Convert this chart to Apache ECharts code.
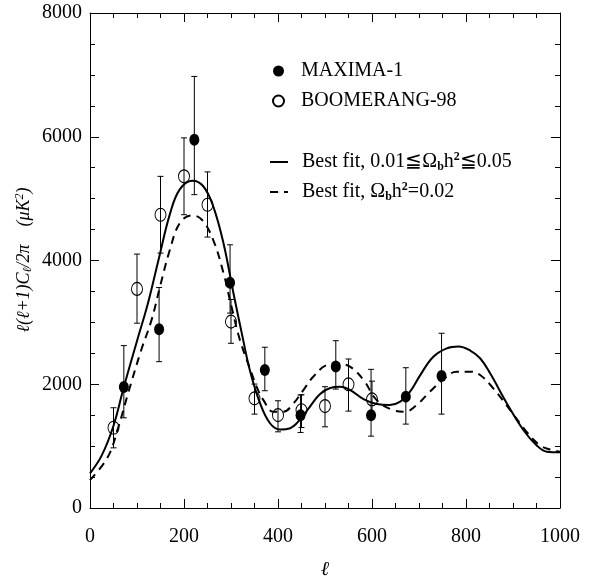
<!DOCTYPE html>
<html>
<head>
<meta charset="utf-8">
<script src="https://cdn.jsdelivr.net/npm/echarts@6/dist/echarts.min.js"></script>
<style>
  html, body { margin: 0; padding: 0; background: #fff; }
  #cl-chart { width: 589px; height: 578px; }
</style>
</head>
<body>
<div id="cl-chart"></div>
<script>
// ------------------------------
// Data
// ------------------------------
var maximaL   = [72, 147, 222, 298, 372, 448, 523, 598, 672, 748];
var maximaVal = [1955, 2890, 5950, 3640, 2230, 1500, 2285, 1500, 1800, 2135];
var maximaLo  = [1458, 2365, 5064, 3150, 1895, 1221, 1922, 1161, 1356, 1517];
var maximaHi  = [2624, 3563, 6975, 4254, 2598, 1826, 2704, 2241, 2267, 2824];

var boomL   = [50, 100, 150, 200, 250, 300, 350, 400, 450, 500, 550, 600];
var boomVal = [1296, 3541, 4740, 5360, 4902, 3012, 1772, 1501, 1580, 1647, 1998, 1755];
var boomLo  = [972, 2987, 4120, 4740, 4379, 2662, 1517, 1231, 1300, 1312, 1566, 1450];
var boomHi  = [1620, 4104, 5360, 5982, 5432, 3370, 2003, 1733, 1830, 1960, 2408, 2050];

// best fit, 0.01 <= Omega_b h^2 <= 0.05 (solid)
var fitRangeL   = [0, 25, 50, 72, 100, 123, 147, 170, 191, 218, 241, 262, 284, 305, 325, 340, 362, 383, 404, 426, 447, 468, 489, 511, 532, 553, 582, 610, 638, 660, 681, 702, 730, 759, 784, 809, 830, 851, 887, 922, 950, 972, 1000];
var fitRangeVal = [560, 850, 1330, 1955, 2700, 3300, 4050, 4750, 5150, 5290, 5200, 4880, 4280, 3480, 2750, 2230, 1690, 1370, 1270, 1290, 1430, 1640, 1840, 1940, 1960, 1910, 1760, 1680, 1665, 1720, 1880, 2140, 2440, 2580, 2610, 2545, 2420, 2180, 1690, 1260, 1015, 910, 900];

// best fit, Omega_b h^2 = 0.02 (dashed)
var fitFixedL   = [0, 38, 60, 81, 109, 131, 149, 170, 191, 216, 238, 262, 284, 301, 319, 340, 355, 369, 390, 411, 433, 454, 475, 504, 523, 553, 582, 610, 645, 670, 695, 723, 752, 780, 809, 830, 858, 894, 929, 957, 979, 1000];
var fitFixedVal = [450, 826, 1300, 1853, 2554, 3040, 3580, 4173, 4605, 4729, 4659, 4335, 3796, 3255, 2716, 2260, 1950, 1744, 1555, 1555, 1691, 1906, 2122, 2311, 2330, 2284, 2068, 1744, 1582, 1555, 1663, 1879, 2080, 2203, 2203, 2149, 1934, 1582, 1231, 1015, 946, 910];

var xTicks = { min: 0, max: 1000, step: 200 };
var yTicks = { min: 0, max: 8000, step: 2000 };

function zip(a, b, c) {
    return a.map(function (v, i) { return c ? [v, b[i], c[i]] : [v, b[i]]; });
}

var serif = "'Liberation Serif', 'DejaVu Serif', serif";

function errorBars(params, api) {
    var x = api.value(0);
    var lo = api.coord([x, api.value(1)]);
    var hi = api.coord([x, api.value(2)]);
    var half = 3;
    var style = { stroke: '#000', lineWidth: 1 };
    return {
        type: 'group',
        children: [
            { type: 'line', shape: { x1: lo[0], y1: lo[1], x2: hi[0], y2: hi[1] }, style: style },
            { type: 'line', shape: { x1: lo[0] - half, y1: lo[1], x2: lo[0] + half, y2: lo[1] }, style: style },
            { type: 'line', shape: { x1: hi[0] - half, y1: hi[1], x2: hi[0] + half, y2: hi[1] }, style: style }
        ]
    };
}

// fresh axis object each time (framed box with inward ticks on all sides)
function makeAxis(ticks, extra) {
    var ax = {
        type: 'value',
        min: ticks.min,
        max: ticks.max,
        interval: ticks.step,
        axisLine: { show: true, onZero: false, lineStyle: { color: '#000', width: 1 } },
        axisTick: { show: true, inside: true, length: 9, lineStyle: { color: '#000', width: 1 } },
        minorTick: { show: true, splitNumber: 4, length: 5, lineStyle: { color: '#000', width: 1 } },
        splitLine: { show: false },
        minorSplitLine: { show: false }
    };
    for (var k in extra) ax[k] = extra[k];
    return ax;
}

var chart = echarts.init(document.getElementById('cl-chart'));

var option = {
    animation: false,
    backgroundColor: '#fff',
    grid: { left: 90, right: 29, top: 13, bottom: 70, outerBoundsMode: 'none' },
    // axis titles
    graphic: [
        {
            type: 'text',
            x: 325,
            y: 570,
            style: {
                text: 'ℓ',
                font: 'italic 20px ' + serif,
                fill: '#000',
                align: 'center',
                verticalAlign: 'middle'
            }
        },
        {
            type: 'text',
            x: 24,
            y: 260,
            rotation: Math.PI / 2,
            style: {
                text: '{t|ℓ(ℓ+1)C}{sb|ℓ}{t|/2π    (μK}{sp|2}{t|)}',
                fill: '#000',
                align: 'center',
                verticalAlign: 'middle',
                rich: {
                    t: { fontFamily: serif, fontStyle: 'italic', fontSize: 18, fill: '#000', lineHeight: 20 },
                    sb: { fontFamily: serif, fontStyle: 'italic', fontSize: 12, fill: '#000', verticalAlign: 'bottom', lineHeight: 20 },
                    sp: { fontFamily: serif, fontStyle: 'italic', fontSize: 12, fill: '#000', verticalAlign: 'top', lineHeight: 20 }
                }
            }
        }
    ],
    legend: [
        {
            data: ['MAXIMA-1', 'BOOMERANG-98'],
            orient: 'vertical',
            left: 272,
            top: 61,
            padding: 0,
            itemWidth: 11,
            itemHeight: 12,
            itemGap: 10,
            textStyle: { fontFamily: serif, fontSize: 20, color: '#000', padding: [0, 0, 0, 12] }
        },
        {
            data: ['fitRange', 'fitFixed'],
            orient: 'vertical',
            left: 269,
            top: 151,
            padding: 0,
            itemWidth: 18,
            itemHeight: 1,
            itemGap: 8,
            formatter: function (name) {
                if (name === 'fitRange') {
                    return '{t|Best fit, 0.01≦Ω}{sb|b}{t|h}{sp|2}{t|≦0.05}';
                }
                return '{t|Best fit, Ω}{sb|b}{t|h}{sp|2}{t|=0.02}';
            },
            textStyle: {
                color: '#000',
                padding: [0, 0, 0, 9],
                rich: {
                    t: { fontFamily: serif, fontSize: 20, color: '#000', lineHeight: 22 },
                    sb: { fontFamily: serif, fontSize: 12, fontWeight: 'bold', color: '#000', verticalAlign: 'bottom', lineHeight: 22 },
                    sp: { fontFamily: serif, fontSize: 12, fontWeight: 'bold', color: '#000', verticalAlign: 'top', lineHeight: 22 }
                }
            }
        }
    ],
    xAxis: [
        makeAxis(xTicks, {
            position: 'bottom',
            axisLabel: { fontFamily: serif, fontSize: 20, color: '#000', margin: 19, formatter: function (v) { return String(v); } }
        }),
        makeAxis(xTicks, { position: 'top', axisLabel: { show: false } })
    ],
    yAxis: [
        makeAxis(yTicks, {
            position: 'left',
            axisLabel: {
                fontFamily: serif, fontSize: 20, color: '#000', margin: 8,
                formatter: function (v) { return String(v); }
            }
        }),
        makeAxis(yTicks, { position: 'right', axisLabel: { show: false } })
    ],
    series: [
        {
            name: 'fitRange',
            type: 'line',
            data: zip(fitRangeL, fitRangeVal),
            smooth: 0.4,
            symbol: 'none',
            lineStyle: { color: '#000', width: 2 },
            itemStyle: { color: '#000' },
            z: 2
        },
        {
            name: 'fitFixed',
            type: 'line',
            data: zip(fitFixedL, fitFixedVal),
            smooth: 0.4,
            symbol: 'none',
            lineStyle: { color: '#000', width: 2, type: [8, 6] },
            itemStyle: { color: '#000' },
            z: 2
        },
        {
            name: 'maximaErr',
            type: 'custom',
            renderItem: errorBars,
            encode: { x: 0, y: [1, 2] },
            data: zip(maximaL, maximaLo, maximaHi),
            z: 3
        },
        {
            name: 'boomErr',
            type: 'custom',
            renderItem: errorBars,
            encode: { x: 0, y: [1, 2] },
            data: zip(boomL, boomLo, boomHi),
            z: 3
        },
        {
            name: 'MAXIMA-1',
            type: 'scatter',
            data: zip(maximaL, maximaVal),
            symbol: 'circle',
            symbolSize: [10, 12],
            itemStyle: { color: '#000', opacity: 1 },
            z: 4
        },
        {
            name: 'BOOMERANG-98',
            type: 'scatter',
            data: zip(boomL, boomVal),
            symbol: 'circle',
            symbolSize: [11, 13],
            itemStyle: { color: 'rgba(255,255,255,0)', borderColor: '#000', borderWidth: 1, opacity: 1 },
            z: 4
        }
    ]
};

chart.setOption(option);
</script>
</body>
</html>
